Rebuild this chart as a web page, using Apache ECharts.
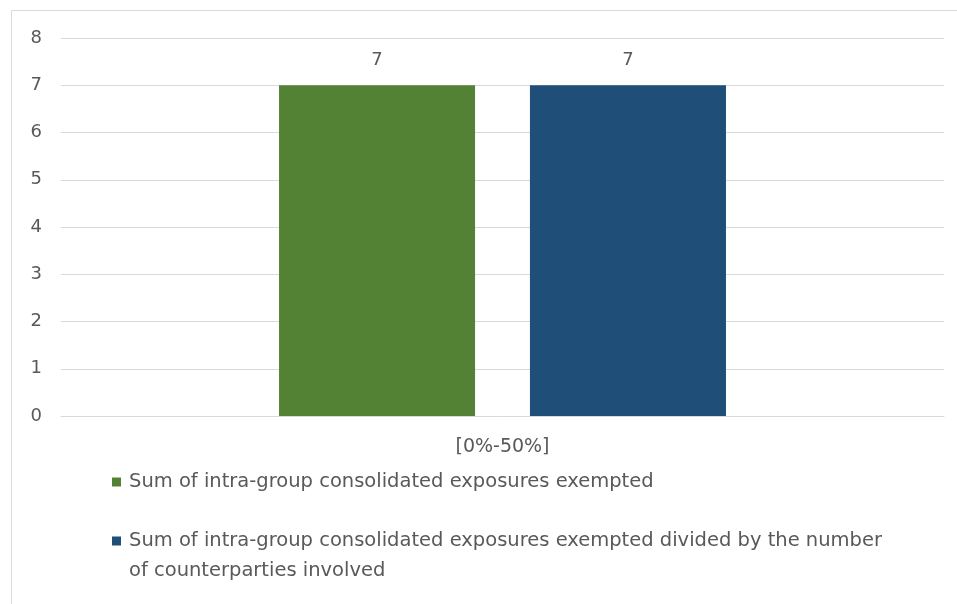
<!DOCTYPE html>
<html>
<head>
<meta charset="utf-8">
<script src="https://cdn.jsdelivr.net/npm/echarts@6/dist/echarts.min.js"></script>
<style>html,body{margin:0;padding:0;background:#fff;}#c{width:957px;height:604px;}</style>
</head>
<body>
<div id="c"></div>
<script>
const categories = ['[0%-50%]'];
const seriesNames = [
  'Sum of intra-group consolidated exposures exempted',
  'Sum of intra-group consolidated exposures exempted divided by the number of counterparties involved'
];
const sumExempted = [7];
const sumDivided = [7];
const yTicks = [0, 1, 2, 3, 4, 5, 6, 7, 8];

const FONT = '"DejaVu Sans", "Open Sans", sans-serif';
const TXT = '#595959';
const chart = echarts.init(document.getElementById('c'));
chart.setOption({
  animation: false,
  backgroundColor: '#ffffff',
  grid: { left: 61, right: 13, top: 38, bottom: 188 },
  xAxis: {
    type: 'category',
    data: categories,
    axisLine: { show: true, lineStyle: { color: '#d9d9d9', width: 1 } },
    axisTick: { show: false },
    axisLabel: { color: TXT, fontFamily: FONT, fontSize: 19, margin: 22 }
  },
  yAxis: {
    type: 'value',
    min: yTicks[0],
    max: yTicks[yTicks.length - 1],
    interval: 1,
    axisLine: { show: false },
    axisTick: { show: false },
    splitLine: { lineStyle: { color: '#d9d9d9', width: 1 } },
    axisLabel: { color: TXT, fontFamily: FONT, fontSize: 18, margin: 19 }
  },
  legend: [
    {
      data: [seriesNames[0]],
      left: 107, top: 467,
      icon: 'rect', itemWidth: 9, itemHeight: 9,
      textStyle: { color: TXT, fontFamily: FONT, fontSize: 19.5, padding: [0, 0, 0, 3] },
      selectedMode: false
    },
    {
      data: [seriesNames[1]],
      left: 107, top: 526,
      icon: 'rect', itemWidth: 9, itemHeight: 9,
      formatter: function () { return 'Sum of intra-group consolidated exposures exempted divided by the number'; },
      textStyle: { color: TXT, fontFamily: FONT, fontSize: 19.5, padding: [0, 0, 0, 3] },
      selectedMode: false
    }
  ],
  graphic: [
    {
      type: 'rect',
      shape: { x: 11.5, y: 10.5, width: 1000, height: 700 },
      style: { fill: 'none', stroke: '#d9d9d9', lineWidth: 1 },
      silent: true, z: -10
    },
    {
      type: 'text',
      left: 129, top: 561,
      style: { text: 'of counterparties involved', fill: TXT, font: '19.5px ' + FONT },
      silent: true
    }
  ],
  series: [
    {
      name: seriesNames[0],
      type: 'bar',
      data: sumExempted,
      barWidth: '22.2%',
      barGap: '28%',
      itemStyle: { color: '#548235' },
      label: { show: true, position: 'top', distance: 16, color: TXT, fontFamily: FONT, fontSize: 18 }
    },
    {
      name: seriesNames[1],
      type: 'bar',
      data: sumDivided,
      barWidth: '22.2%',
      barGap: '28%',
      itemStyle: { color: '#1f4e79' },
      label: { show: true, position: 'top', distance: 16, color: TXT, fontFamily: FONT, fontSize: 18 }
    }
  ]
});
</script>
</body>
</html>
